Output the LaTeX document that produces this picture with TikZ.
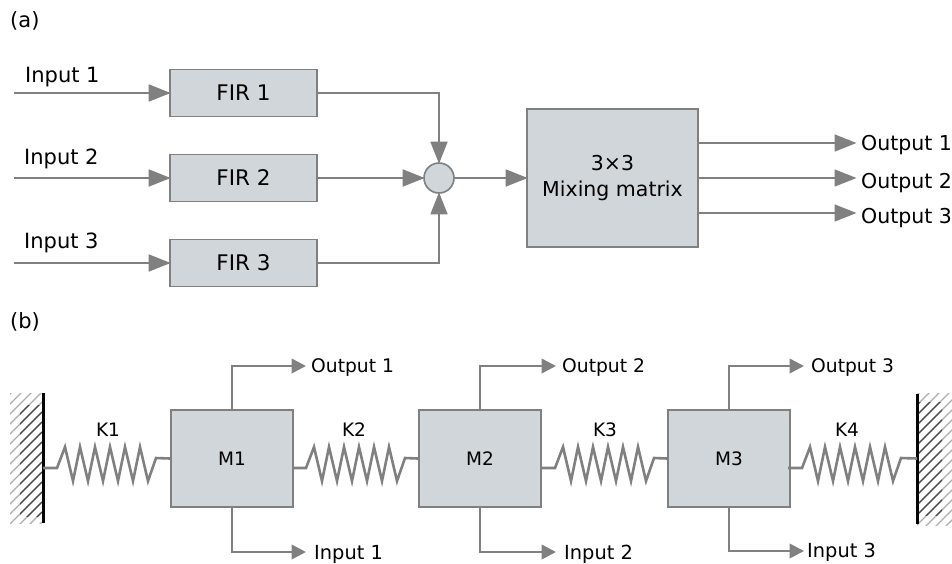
\documentclass[tikz,border=0pt]{standalone}
\usepackage{fontspec}
\setmainfont{DejaVu Sans}
\usetikzlibrary{arrows.meta,calc}
\definecolor{boxfill}{HTML}{D1D6DA}
\definecolor{linegray}{HTML}{808080}
\tikzset{
  x=1pt,y=-1pt,
  fbox/.style={draw=linegray,fill=boxfill,line width=1.6pt,rectangle,inner sep=0pt,align=center,font=\fontsize{21.5}{24}\selectfont},
  mixbox/.style={draw=linegray,fill=boxfill,line width=1.6pt,rectangle,inner sep=0pt,align=center,font=\fontsize{20.5}{26}\selectfont},
  mbox/.style={draw=linegray,fill=boxfill,line width=1.6pt,rectangle,inner sep=0pt,font=\fontsize{18.5}{22}\selectfont},
  sumnode/.style={draw=linegray,fill=boxfill,line width=1.6pt,circle,inner sep=0pt,minimum size=30pt},
  linka/.style={draw=linegray,line width=1.6pt,shorten >=-1.5pt,-{Triangle[length=22pt,width=17pt,fill=linegray]}},
  linkb/.style={draw=linegray,line width=2.6pt,-{Triangle[length=14.5pt,width=14.5pt,fill=linegray]}},
  springline/.style={draw=linegray,line width=2.6pt,line join=miter},
  lbla/.style={anchor=base west,inner sep=0pt,font=\fontsize{20.5}{24}\selectfont},
  lbli/.style={anchor=base west,inner sep=0pt,font=\fontsize{21}{24}\selectfont},
  lblb/.style={anchor=base west,inner sep=0pt,font=\fontsize{18.7}{22}\selectfont},
  lblj/.style={anchor=base west,inner sep=0pt,font=\fontsize{19.4}{22}\selectfont},
  lblc/.style={anchor=base,inner sep=0pt,font=\fontsize{18.5}{22}\selectfont},
  wallbar/.style={draw=black,line width=3pt},
  hatchlight/.style={draw=black!32,line width=1.1pt},
  hatchdark/.style={draw=black!72,line width=1.1pt},
}
\newcommand{\springpath}[2]{%
  \draw[springline] (#1) -- ++(14,0) -- ++(8,-21) -- ++(8,34) -- ++(7,-34) -- ++(8,34) -- ++(7,-34) -- ++(8,34)
    -- ++(7,-34) -- ++(8,34) -- ++(7,-34) -- ++(8,34) -- ++(7,-34) -- ++(8,34) -- ++(8,-23) -- (#2);}
\newcommand{\hatchlines}[2]{%
  \foreach \k in {0,...,18}{\draw[#2] (#1,{402+\k*10}) -- ++(60,-60);}}
\begin{document}
\begin{tikzpicture}
\useasboundingbox (0,0) rectangle (952,563);
% --- (a)
\node[lbli] (la) at (10,27) {(a)};
\node[fbox,minimum width=147pt,minimum height=47pt] (f1) at (243.5,93) {FIR 1};
\node[fbox,minimum width=147pt,minimum height=47pt] (f2) at (243.5,178) {FIR 2};
\node[fbox,minimum width=147pt,minimum height=47pt] (f3) at (243.5,263) {FIR 3};
\node[sumnode] (sum) at (439,178) {};
\node[mixbox,minimum width=171pt,minimum height=138pt] (mix) at (612.5,178) {3×3\\Mixing matrix};
\coordinate (i1) at (14,93);
\coordinate (i2) at (14,178);
\coordinate (i3) at (14,263);
\node[lbli] (ti1) at (25,82) {Input 1};
\node[lbli] (ti2) at (24,164) {Input 2};
\node[lbli] (ti3) at (24,248) {Input 3};
\draw[linka] (i1) -- (f1.west);
\draw[linka] (i2) -- (f2.west);
\draw[linka] (i3) -- (f3.west);
\draw[linka] (f1.east) -| (sum.north);
\draw[linka] (f2.east) -- (sum.west);
\draw[linka] (f3.east) -| (sum.south);
\draw[linka] (sum.east) -- (mix.west);
\coordinate (e1) at (855,143);
\coordinate (e2) at (855,178);
\coordinate (e3) at (855,213);
\draw[linka] (mix.east |- e1) -- (e1);
\draw[linka] (mix.east |- e2) -- (e2);
\draw[linka] (mix.east |- e3) -- (e3);
\node[lbla] (to1) at (861,150) {Output 1};
\node[lbla] (to2) at (861,188) {Output 2};
\node[lbla] (to3) at (861,223) {Output 3};
% --- (b)
\node[lbli] (lb) at (10,328) {(b)};
\begin{scope}
\clip (10,393) rectangle (43,523);
\hatchlines{-18}{hatchlight}
\clip (20,405) rectangle (43,516);
\hatchlines{-18}{hatchdark}
\end{scope}
\begin{scope}
\clip (917,393) rectangle (952,525);
\hatchlines{910}{hatchlight}
\clip (917,402) rectangle (942,515);
\hatchlines{910}{hatchdark}
\end{scope}
\coordinate (wl) at (43,393);
\coordinate (wlb) at (43,523);
\coordinate (wr) at (917,394);
\coordinate (wrb) at (917,524);
\draw[wallbar] (wl) -- (wlb);
\draw[wallbar] (wr) -- (wrb);
\node[mbox,minimum width=122pt,minimum height=97pt] (m1) at (232,458.5) {M1};
\node[mbox,minimum width=122pt,minimum height=97pt] (m2) at (480,458.5) {M2};
\node[mbox,minimum width=122pt,minimum height=97pt] (m3) at (729,458.5) {M3};
\coordinate (s1a) at (43,468); \coordinate (s1b) at (m1.west);
\coordinate (s2a) at (292,468); \coordinate (s2b) at (m2.west);
\coordinate (s3a) at (541,468); \coordinate (s3b) at (m3.west);
\coordinate (s4a) at (788,468); \coordinate (s4b) at (wr |- m3.west);
\springpath{s1a}{s1b}
\springpath{s2a}{s2b}
\springpath{s3a}{s3b}
\springpath{s4a}{s4b}
\node[lblc] (k1) at (108,436) {K1};
\node[lblc] (k2) at (354,436) {K2};
\node[lblc] (k3) at (605,436) {K3};
\node[lblc] (k4) at (847,436) {K4};
\coordinate (o1) at (306,366); \coordinate (o2) at (556,366); \coordinate (o3) at (804,366);
\coordinate (n1) at (306,552); \coordinate (n2) at (556,552); \coordinate (n3) at (804,551);
\draw[linkb] (m1.north) |- (o1);
\draw[linkb] (m2.north) |- (o2);
\draw[linkb] (m3.north) |- (o3);
\draw[linkb] (m1.south) |- (n1);
\draw[linkb] (m2.south) |- (n2);
\draw[linkb] (m3.south) |- (n3);
\node[lblb] (b1) at (311,372) {Output 1};
\node[lblb] (b2) at (562,372) {Output 2};
\node[lblb] (b3) at (811,372) {Output 3};
\node[lblj] (c1) at (314,559) {Input 1};
\node[lblj] (c2) at (564,559) {Input 2};
\node[lblj] (c3) at (807,557) {Input 3};
\end{tikzpicture}
\end{document}
